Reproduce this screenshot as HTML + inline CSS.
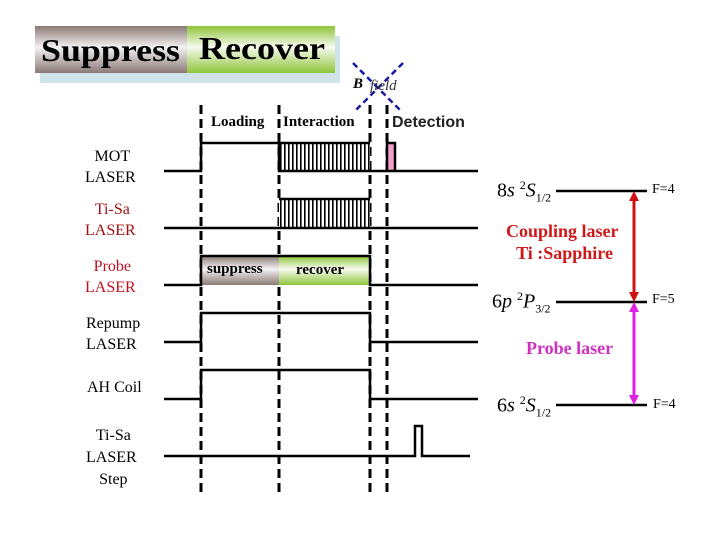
<!DOCTYPE html>
<html><head><meta charset="utf-8"><style>
body{margin:0;width:720px;height:540px;background:#fff;overflow:hidden;position:relative;font-family:"Liberation Serif",serif}
.t{position:absolute;white-space:nowrap}
</style></head><body>
<svg width="720" height="540" style="position:absolute;left:0;top:0">
<defs>
<linearGradient id="gb" x1="0" y1="0" x2="0" y2="1"><stop offset="0" stop-color="#8a7a76"/><stop offset=".45" stop-color="#f4f2f2"/><stop offset="1" stop-color="#8a7a76"/></linearGradient>
<linearGradient id="gg" x1="0" y1="0" x2="0" y2="1"><stop offset="0" stop-color="#8fc43a"/><stop offset=".45" stop-color="#f6fbee"/><stop offset="1" stop-color="#8fc43a"/></linearGradient>
<pattern id="h" width="4" height="10" patternUnits="userSpaceOnUse"><rect width="4" height="10" fill="#fff"/><rect width="1.6" height="10" fill="#000"/></pattern>
</defs>
<rect x="40" y="36" width="300" height="47" fill="#cfe3e8"/>
<rect x="35" y="26" width="152" height="47" fill="url(#gb)"/>
<rect x="187" y="26" width="148" height="47" fill="url(#gg)"/>
<text x="41" y="61" font-size="32" font-weight="bold" font-family="Liberation Serif" textLength="139" lengthAdjust="spacingAndGlyphs">Suppress</text>
<text x="199" y="59" font-size="32" font-weight="bold" font-family="Liberation Serif" textLength="126" lengthAdjust="spacingAndGlyphs">Recover</text>
<g stroke="#000" stroke-width="3" stroke-dasharray="9,5">
<line x1="201" y1="105" x2="201" y2="497"/><line x1="279" y1="105" x2="279" y2="497"/>
<line x1="370" y1="105" x2="370" y2="497"/><line x1="387" y1="105" x2="387" y2="497"/>
</g>
<g stroke="#1a1aa0" stroke-width="2.5" stroke-dasharray="6,4"><line x1="353" y1="63" x2="400" y2="110"/><line x1="403" y1="63" x2="356" y2="110"/></g>
<rect x="279" y="143" width="91" height="28" fill="url(#h)"/>
<rect x="279" y="199" width="91" height="29" fill="url(#h)"/>
<rect x="202" y="256" width="77" height="29" fill="url(#gb)"/>
<rect x="279" y="256" width="91" height="29" fill="url(#gg)"/>
<rect x="388" y="144" width="6" height="27" fill="#f0a0c8"/>
<g stroke="#000" stroke-width="2.5" fill="none">
<polyline points="164,171 201,171 201,143 279,143 279,171 478,171"/>
<line x1="279" y1="143" x2="370" y2="143"/>
<polyline points="387,171 387,143 395,143 395,171"/>
<line x1="164" y1="228" x2="478" y2="228"/><line x1="279" y1="199" x2="370" y2="199"/>
<polyline points="164,285 201,285 201,256 370,256 370,285 478,285"/>
<polyline points="164,342 201,342 201,313 370,313 370,342 478,342"/>
<polyline points="164,399 201,399 201,370 370,370 370,399 478,399"/>
<polyline points="164,456 415,456 415,426 422,426 422,456 470,456"/>
<line x1="556" y1="191" x2="647" y2="191"/><line x1="556" y1="302" x2="647" y2="302"/><line x1="556" y1="405" x2="647" y2="405"/>
</g>
<g stroke-width="3"><line x1="634" y1="198" x2="634" y2="295" stroke="#d01010"/><line x1="634" y1="309" x2="634" y2="398" stroke="#e020e0"/></g>
<polygon points="634,191 629,201 639,201" fill="#d01010"/><polygon points="634,302 629,292 639,292" fill="#d01010"/>
<polygon points="634,302 629,312 639,312" fill="#e020e0"/><polygon points="634,405 629,395 639,395" fill="#e020e0"/>
</svg>
<div class="t" style="left:353px;top:76px;font-size:15px;font-weight:bold;font-style:italic">B</div>
<div class="t" style="left:370px;top:78px;font-size:15px;font-style:italic;color:#333">field</div>
<div class="t" style="left:211px;top:114px;font-size:15px;font-weight:bold">Loading</div>
<div class="t" style="left:283px;top:114px;font-size:15px;font-weight:bold">Interaction</div>
<div class="t" style="left:392px;top:114px;font-size:16px;font-weight:bold;font-family:'Liberation Sans',sans-serif;color:#222">Detection</div>
<div class="t" style="left:85px;top:146px;font-size:16px;text-align:center;line-height:21px">&nbsp;MOT<br>LASER</div>
<div class="t" style="left:85px;top:199px;font-size:16px;text-align:center;line-height:21px;color:#a01010">&nbsp;Ti-Sa<br>LASER</div>
<div class="t" style="left:85px;top:256px;font-size:16px;text-align:center;line-height:21px;color:#c01020">&nbsp;Probe<br>LASER</div>
<div class="t" style="left:86px;top:313px;font-size:16px;line-height:21px">Repump<br>LASER</div>
<div class="t" style="left:87px;top:379px;font-size:16px">AH Coil</div>
<div class="t" style="left:86px;top:425px;font-size:16px;text-align:center;line-height:22px">&nbsp;Ti-Sa<br>LASER<br>&nbsp;Step</div>
<div class="t" style="left:207px;top:261px;font-size:15px;font-weight:bold">suppress</div>
<div class="t" style="left:296px;top:262px;font-size:15px;font-weight:bold">recover</div>
<div class="t" style="left:497px;top:178px;font-size:20px">8<i>s</i> <sup style="font-size:12px">2</sup><i>S</i><sub style="font-size:12px">1/2</sub></div>
<div class="t" style="left:492px;top:289px;font-size:20px">6<i>p</i> <sup style="font-size:12px">2</sup><i>P</i><sub style="font-size:12px">3/2</sub></div>
<div class="t" style="left:497px;top:393px;font-size:20px">6<i>s</i> <sup style="font-size:12px">2</sup><i>S</i><sub style="font-size:12px">1/2</sub></div>
<div class="t" style="left:652px;top:182px;font-size:14px">F=4</div>
<div class="t" style="left:652px;top:292px;font-size:14px">F=5</div>
<div class="t" style="left:653px;top:397px;font-size:14px">F=4</div>
<div class="t" style="left:506px;top:220px;font-size:18px;font-weight:bold;color:#d01818;text-align:center;line-height:22px">Coupling laser<br>&nbsp;Ti :Sapphire</div>
<div class="t" style="left:526px;top:338px;font-size:18px;font-weight:bold;color:#d030c0">Probe laser</div>
</body></html>
